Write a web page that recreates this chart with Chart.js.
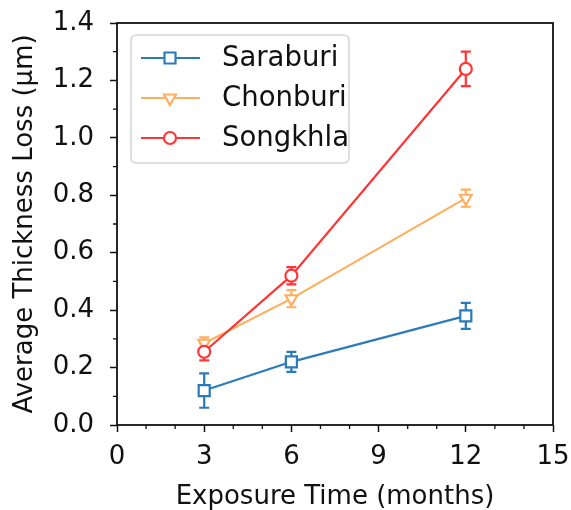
<!DOCTYPE html>
<html>
<head>
<meta charset="utf-8">
<script src="https://cdn.jsdelivr.net/npm/chart.js@4"></script>
<style>
body { margin: 0; background: #fff; }
</style>
</head>
<body>
<canvas id="myChart" width="571" height="510"></canvas>
<script>
var months = [3, 6, 12];
var seriesNames = ['Saraburi', 'Chonburi', 'Songkhla'];
var saraburi = [0.12, 0.22, 0.38];
var saraburiErr = [0.06, 0.035, 0.045];
var chonburi = [0.285, 0.44, 0.79];
var chonburiErr = [0.02, 0.03, 0.03];
var songkhla = [0.255, 0.52, 1.24];
var songkhlaErr = [0.03, 0.03, 0.06];

var blue = '#2c7bb9';
var orange = '#ffaf5f';
var red = '#ff3535';
var fontFam = '"DejaVu Sans", sans-serif';

function pts(ys) {
    return months.map(function (m, i) { return { x: m, y: ys[i] }; });
}

function mkSet(name, ys, errs, color, style, rot, rad, order) {
    return {
        label: name,
        data: pts(ys),
        errors: errs,
        borderColor: color,
        backgroundColor: '#fff',
        pointBackgroundColor: '#fff',
        pointBorderColor: color,
        pointBorderWidth: 2.2,
        pointRadius: rad,
        pointStyle: style,
        pointRotation: rot,
        borderWidth: 2.2,
        order: order
    };
}

// draws marker shapes for the hand-made legend
function marker(c, style, x, y, color) {
    c.save();
    c.strokeStyle = color;
    c.fillStyle = '#fff';
    c.lineWidth = 2.2;
    c.beginPath();
    if (style === 'rect') {
        c.rect(x - 5.5, y - 5.5, 11, 11);
    } else if (style === 'triangle') {
        c.moveTo(x - 6, y - 3.5);
        c.lineTo(x + 6, y - 3.5);
        c.lineTo(x, y + 7);
        c.closePath();
    } else {
        c.arc(x, y, 6, 0, Math.PI * 2);
    }
    c.fill();
    c.stroke();
    c.restore();
}

var extras = {
    id: 'extras',
    beforeDatasetsDraw: function (chart) {
        var c = chart.ctx;
        var xs = chart.scales.x, ys = chart.scales.y;
        c.save();
        c.lineWidth = 2.2;
        chart.data.datasets.forEach(function (ds) {
            c.strokeStyle = ds.borderColor;
            ds.data.forEach(function (p, i) {
                var px = xs.getPixelForValue(p.x);
                var top = ys.getPixelForValue(p.y + ds.errors[i]);
                var bot = ys.getPixelForValue(p.y - ds.errors[i]);
                c.beginPath();
                c.moveTo(px, top); c.lineTo(px, bot);
                c.moveTo(px - 5, top); c.lineTo(px + 5, top);
                c.moveTo(px - 5, bot); c.lineTo(px + 5, bot);
                c.stroke();
            });
        });
        c.restore();
    },
    afterDraw: function (chart) {
        var c = chart.ctx;
        var a = chart.chartArea;
        var xs = chart.scales.x, ys = chart.scales.y;
        c.save();
        // frame
        c.strokeStyle = '#111';
        c.lineWidth = 1.8;
        c.strokeRect(a.left, a.top, a.right - a.left, a.bottom - a.top);
        // minor ticks
        c.lineWidth = 1.3;
        c.beginPath();
        for (var m = 1; m < 15; m++) {
            if (m % 3 === 0) continue;
            var px = xs.getPixelForValue(m);
            c.moveTo(px, a.bottom); c.lineTo(px, a.bottom + 4);
        }
        for (var k = 1; k < 14; k += 2) {
            var py = ys.getPixelForValue(k / 10);
            c.moveTo(a.left, py); c.lineTo(a.left - 4, py);
        }
        c.stroke();
        // legend
        var lx = 131, ly = 35, lw = 218, lh = 128;
        c.beginPath();
        c.roundRect(lx, ly, lw, lh, 5);
        c.fillStyle = 'rgba(255,255,255,0.8)';
        c.fill();
        c.strokeStyle = '#d4d4d4';
        c.lineWidth = 1.5;
        c.stroke();
        var styles = ['rect', 'triangle', 'circle'];
        c.font = '27.5px ' + fontFam;
        c.textBaseline = 'middle';
        chart.data.datasets.forEach(function (ds, i) {
            var y = 58 + i * 40;
            c.strokeStyle = ds.borderColor;
            c.lineWidth = 2.2;
            c.beginPath();
            c.moveTo(141, y); c.lineTo(200, y);
            c.stroke();
            marker(c, styles[i], 170, y, ds.borderColor);
            c.fillStyle = '#111';
            c.fillText(ds.label, 222, y + 1);
        });
        c.restore();
    }
};

var ctx = document.getElementById('myChart').getContext('2d');
var chart = new Chart(ctx, {
    type: 'line',
    data: {
        datasets: [
            mkSet(seriesNames[0], saraburi, saraburiErr, blue, 'rect', 0, 7.8, 2),
            mkSet(seriesNames[1], chonburi, chonburiErr, orange, 'triangle', 180, 6.8, 1),
            mkSet(seriesNames[2], songkhla, songkhlaErr, red, 'circle', 0, 6, 0)
        ]
    },
    options: {
        responsive: false,
        animation: false,
        layout: { padding: { left: 0, top: 23, right: 18, bottom: 0 } },
        plugins: { legend: { display: false }, tooltip: { enabled: false } },
        scales: {
            x: {
                type: 'linear',
                min: 0, max: 15,
                afterFit: function (s) { s.height = 85; s.paddingLeft = 0; s.paddingRight = 0; },
                ticks: { stepSize: 3, color: '#111', padding: 10, font: { family: fontFam, size: 26 } },
                grid: { drawOnChartArea: false, tickLength: 7, color: '#111', tickWidth: 1.5 },
                border: { display: false },
                title: { display: true, text: 'Exposure Time (months)', color: '#111', padding: { top: 8, bottom: -3 }, font: { family: fontFam, size: 26 } }
            },
            y: {
                min: 0, max: 1.4,
                afterFit: function (s) { s.width = 117; s.paddingTop = 0; s.paddingBottom = 0; },
                ticks: { stepSize: 0.2, color: '#111', padding: 16, font: { family: fontFam, size: 26 },
                    callback: function (v) { return v.toFixed(1); } },
                grid: { drawOnChartArea: false, tickLength: 7, color: '#111', tickWidth: 1.5 },
                border: { display: false },
                title: { display: true, text: 'Average Thickness Loss (μm)', color: '#111', padding: { top: 10 }, font: { family: fontFam, size: 26 } }
            }
        }
    },
    plugins: [extras]
});
</script>
</body>
</html>
